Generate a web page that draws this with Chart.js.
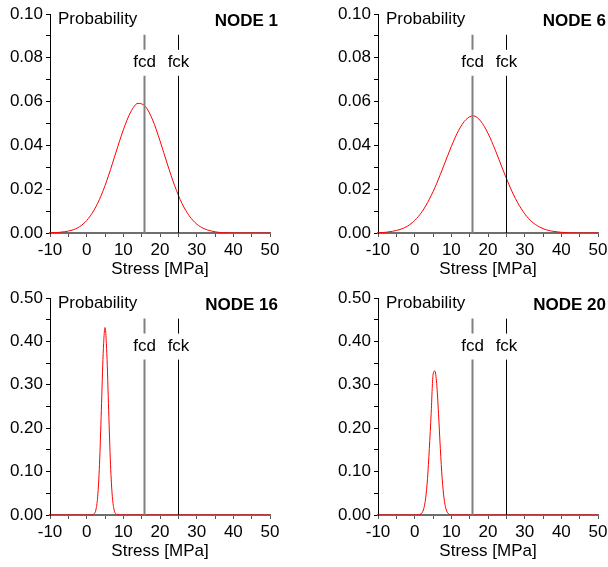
<!DOCTYPE html>
<html>
<head>
<meta charset="utf-8">
<script src="https://cdn.jsdelivr.net/npm/chart.js@4"></script>
<style>
  html, body { margin: 0; padding: 0; background: #fff; width: 608px; height: 567px; overflow: hidden; }
  canvas { position: absolute; }
</style>
</head>
<body>
<canvas id="node1" width="300" height="285" style="left:0px;top:0px"></canvas>
<canvas id="node6" width="300" height="285" style="left:328px;top:0px"></canvas>
<canvas id="node16" width="300" height="283" style="left:0px;top:284px"></canvas>
<canvas id="node20" width="300" height="283" style="left:328px;top:284px"></canvas>
<script>
// stress values [MPa] and probability
var node1X = [-10, -8, -6, -4, -2, 0, 2, 4, 6, 8, 10, 12, 14, 16, 18, 20, 22, 24, 26, 28, 30, 32, 34, 36, 38, 40, 42, 44, 46, 48, 50];
var node1Y = [0.0001, 0.0002, 0.0006, 0.0013, 0.0028, 0.0057, 0.0104, 0.0173, 0.0264, 0.0369, 0.0471, 0.0552, 0.0592, 0.0578, 0.0516, 0.0421, 0.0315, 0.0216, 0.0135, 0.0078, 0.0041, 0.0020, 0.0009, 0.0003, 0.0001, 0, 0, 0, 0, 0, 0];

var node6X = [-10, -8, -6, -4, -2, 0, 2, 4, 6, 8, 10, 12, 14, 16, 18, 20, 22, 24, 26, 28, 30, 32, 34, 36, 38, 40, 42, 44, 46, 48, 50];
var node6Y = [0.0001, 0.0003, 0.0008, 0.0016, 0.0031, 0.0057, 0.0097, 0.0154, 0.0226, 0.0310, 0.0395, 0.0469, 0.0518, 0.0535, 0.0511, 0.0455, 0.0378, 0.0292, 0.0210, 0.0141, 0.0088, 0.0051, 0.0028, 0.0014, 0.0007, 0.0003, 0.0001, 0, 0, 0, 0];

var node16X = [-10, 0, 1, 1.5, 2, 2.5, 3, 3.5, 4, 4.5, 5, 5.5, 6, 6.5, 7, 7.5, 8, 8.5, 9, 10, 50];
var node16Y = [0, 0, 0, 0.0004, 0.0023, 0.0114, 0.0421, 0.1164, 0.2406, 0.3719, 0.432, 0.3719, 0.2406, 0.1164, 0.0421, 0.0114, 0.0023, 0.0004, 0, 0, 0];

var node20X = [-10, 0, 1, 1.5, 2, 2.5, 3, 3.5, 4, 4.5, 5, 5.5, 6, 6.5, 7, 7.5, 8, 8.5, 9, 9.5, 10, 11, 50];
var node20Y = [0, 0, 0.0003, 0.0014, 0.005, 0.0152, 0.0389, 0.084, 0.1529, 0.2344, 0.322, 0.332, 0.303, 0.2344, 0.1529, 0.084, 0.0389, 0.0152, 0.005, 0.0014, 0.0003, 0, 0];

// design strength and characteristic strength
var fcd = 15.6;
var fck = 25;

var font = '"Liberation Sans", Arial, sans-serif';

// Probability / NODE n labels and the fcd, fck markers
var notes = {
    id: 'notes',
    afterDatasetsDraw: function (chart, args, opts) {
        var ctx = chart.ctx, a = chart.chartArea;
        var x = chart.scales.x, y = chart.scales.y;
        ctx.save();
        ctx.fillStyle = '#000';
        ctx.textBaseline = 'middle';
        ctx.font = '17px ' + font;
        ctx.textAlign = 'left';
        ctx.fillText('Probability', a.left + 8, a.top + 5);
        ctx.font = 'bold 17px ' + font;
        ctx.textAlign = 'right';
        ctx.fillText(opts.title, a.right + 8, a.top + 7);

        var marks = [[fcd, 'fcd', '#808080', 2], [fck, 'fck', '#000', 1]];
        var top = y.getPixelForValue(y.max * 0.905);
        var bottom = y.getPixelForValue(0);
        ctx.font = '17px ' + font;
        ctx.textAlign = 'center';
        marks.forEach(function (m) {
            var px = Math.round(x.getPixelForValue(m[0])) + 0.5;
            ctx.strokeStyle = m[2];
            ctx.lineWidth = m[3];
            ctx.beginPath();
            ctx.moveTo(px, top);
            ctx.lineTo(px, top + 15);
            ctx.moveTo(px, top + 41);
            ctx.lineTo(px, bottom);
            ctx.stroke();
            ctx.fillText(m[1], px, top + 28);
        });
        ctx.restore();
    }
};

function makeChart(id, xs, ys, title, yMax, yStep) {
    var pts = xs.map(function (v, i) { return { x: v, y: ys[i] }; });
    var canvas = document.getElementById(id);
    var plotH = canvas.height === 285 ? 219 : 217;
    return new Chart(canvas.getContext('2d'), {
        type: 'scatter',
        data: {
            datasets: [{
                data: pts,
                showLine: true,
                borderColor: '#ff0000',
                borderWidth: 1,
                pointRadius: 0,
                cubicInterpolationMode: 'monotone'
            }]
        },
        options: {
            responsive: false,
            animation: false,
            layout: { padding: { left: 0, right: 30, top: 14, bottom: 0 } },
            plugins: {
                legend: { display: false },
                tooltip: { enabled: false },
                notes: { title: title }
            },
            scales: {
                x: {
                    type: 'linear',
                    min: -10,
                    max: 50,
                    afterFit: function (s) { s.height = canvas.height - 14 - plotH; },
                    border: { color: '#6e6e6e', width: 2 },
                    grid: { drawOnChartArea: false, tickLength: 4, color: '#555' },
                    ticks: {
                        stepSize: 5,
                        autoSkip: false,
                        maxRotation: 0,
                        padding: 3,
                        color: '#000',
                        font: { family: font, size: 17 },
                        callback: function (v) { return v % 10 === 0 ? String(v) : ''; }
                    },
                    title: {
                        display: true,
                        text: 'Stress [MPa]',
                        color: '#000',
                        font: { family: font, size: 17 },
                        padding: { top: 0, bottom: 5 }
                    }
                },
                y: {
                    min: 0,
                    max: yMax,
                    afterFit: function (s) { s.width = 50; },
                    border: { color: '#000', width: 1 },
                    grid: { drawOnChartArea: false, tickLength: 4, color: '#000' },
                    ticks: {
                        stepSize: yStep,
                        autoSkip: false,
                        padding: 3,
                        color: '#000',
                        font: { family: font, size: 17 },
                        callback: function (v) {
                            var n = Math.round(v / yStep);
                            return n % 2 === 0 ? v.toFixed(2) : '';
                        }
                    }
                }
            }
        },
        plugins: [notes]
    });
}

makeChart('node1', node1X, node1Y, 'NODE 1', 0.10, 0.01);
makeChart('node6', node6X, node6Y, 'NODE 6', 0.10, 0.01);
makeChart('node16', node16X, node16Y, 'NODE 16', 0.50, 0.05);
makeChart('node20', node20X, node20Y, 'NODE 20', 0.50, 0.05);
</script>
</body>
</html>
